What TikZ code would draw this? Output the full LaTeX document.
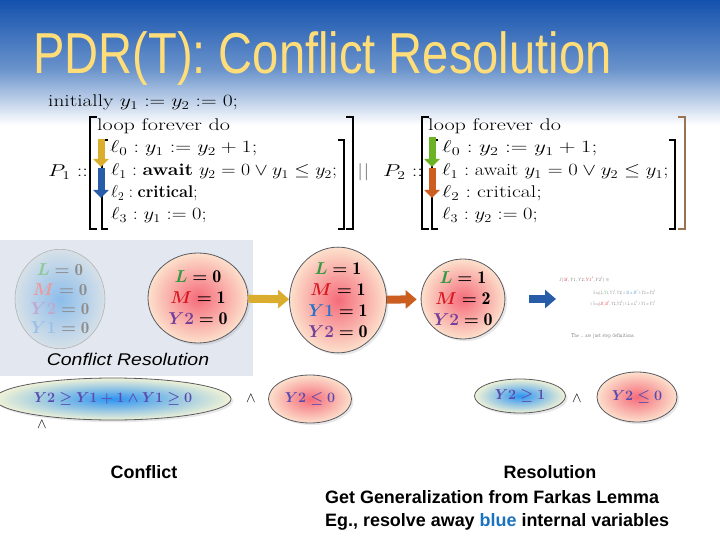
\documentclass[tikz,border=0pt]{standalone}
\usepackage{amsmath, amssymb}
\usepackage{bm}
\usepackage{graphicx}
\usepackage{fontspec}
\newfontfamily\arialfont{Liberation Sans}
\usepackage{tikz}
\usetikzlibrary{arrows.meta, shapes.geometric, shadows}

\definecolor{skytop}{rgb}{0.08,0.32,0.68}
\definecolor{skymid}{rgb}{0.42,0.58,0.8}
\definecolor{titlegold}{rgb}{1,0.87,0.48}
\definecolor{panelgray}{rgb}{0.89,0.91,0.94}
\definecolor{ellgray}{rgb}{0.35,0.35,0.38}
\definecolor{pinkin}{rgb}{0.96,0.42,0.48}
\definecolor{pinkout}{rgb}{0.99,0.88,0.80}
\definecolor{bluein}{rgb}{0.18,0.58,0.95}
\definecolor{blueout}{rgb}{0.94,0.95,0.84}
\definecolor{fadein}{rgb}{0.55,0.74,0.92}
\definecolor{fadeout}{rgb}{0.84,0.88,0.91}
\definecolor{Lgreen}{rgb}{0.2,0.6,0.25}
\definecolor{Mred}{rgb}{0.85,0.1,0.12}
\definecolor{Ypurple}{rgb}{0.45,0.25,0.6}
\definecolor{Yblue}{rgb}{0.15,0.45,0.78}
\definecolor{ineqblue}{rgb}{0.35,0.3,0.68}
\definecolor{arrowyellow}{rgb}{0.86,0.68,0.18}
\definecolor{arroworange}{rgb}{0.8,0.37,0.12}
\definecolor{arrowblue}{rgb}{0.15,0.36,0.66}
\definecolor{arrowgreen}{rgb}{0.42,0.7,0.15}
\definecolor{blueword}{rgb}{0.1,0.45,0.75}
\definecolor{bracktan}{rgb}{0.6,0.45,0.32}

\newcommand{\wide}[2][1.3]{\scalebox{#1}[1]{#2}}
\newcommand{\steq}[4][black]{$\color{#1}\textcolor{#2}{\bm{#3}}\bm{=}\mathbf{#4}$}

\begin{document}
\begin{tikzpicture}[x=1bp, y=-1bp,
    prog/.style={anchor=base west, inner sep=0pt, font=\fontsize{17}{22}\selectfont},
    brk/.style={line width=1.4bp},
    varrow/.style={line width=7bp, -{Triangle[width=15bp, length=8bp]}},
    harrow/.style={line width=8bp, -{Triangle[width=18bp, length=11bp]}},
    pinkell/.style={ellipse, draw=ellgray, line width=0.8bp, inner color=pinkin,
        outer color=pinkout, inner sep=0pt, align=center,
        font=\fontsize{18}{21}\selectfont, drop shadow={opacity=0.18}},
    blueell/.style={ellipse, draw=ellgray, line width=0.8bp, inner color=bluein,
        outer color=blueout, inner sep=0pt, align=center,
        drop shadow={opacity=0.18}},
    ineq/.style={font=\fontsize{15}{15}\selectfont, text=ineqblue},
    andsym/.style={inner sep=0pt, font=\fontsize{15}{15}\selectfont},
    steptxt/.style={anchor=base west, inner sep=0pt, text=black!60,
        font=\fontsize{4}{5}\selectfont},
    caption/.style={inner sep=0pt, font=\arialfont\bfseries\fontsize{18}{22}\selectfont}]
    \useasboundingbox (0,0) rectangle (720,540);

    % slide background
    \fill[top color=skytop, bottom color=skymid] (0,0) rectangle (720,70);
    \fill[top color=skymid, bottom color=white] (0,69.5) rectangle (720,125);

    \node[anchor=base west, inner sep=0pt, text=titlegold,
        font=\arialfont\fontsize{58}{58}\selectfont] (title) at (33,74)
        {\scalebox{0.815}[1]{PDR(T): Conflict Resolution}};

    % the two processes
    \node[prog] (init) at (48,107) {\wide[1.26]{initially $y_1 := y_2 := 0;$}};
    \node[prog] (pa) at (48,177) {\wide{$P_1 ::$}};
    \node[prog] (aloop) at (97,131) {\wide[1.31]{loop forever do}};
    \node[prog] (al0) at (110,153) {\wide[1.28]{$\ell_0 : y_1 := y_2 + 1;$}};
    \node[prog] (al1) at (111,176) {\wide[1.15]{$\ell_1 : \textbf{await}\ y_2 = 0 \vee y_1 \le y_2;$}};
    \node[prog] (al2) at (111,198) {\wide[0.97]{$\ell_2 : \textbf{critical};$}};
    \node[prog] (al3) at (111,220) {\wide[1.19]{$\ell_3 : y_1 := 0;$}};

    \node[prog, text=black!55] (par) at (357,177) {\wide{$||$}};

    \node[prog] (pb) at (383,177) {\wide{$P_2 ::$}};
    \node[prog] (bloop) at (428,131) {\wide[1.31]{loop forever do}};
    \node[prog] (bl0) at (442,153) {\wide[1.35]{$\ell_0 : y_2 := y_1 + 1;$}};
    \node[prog] (bl1) at (442,176) {\wide[1.2]{$\ell_1 : \text{await}\ y_1 = 0 \vee y_2 \le y_1;$}};
    \node[prog] (bl2) at (442,198) {\wide[1.28]{$\ell_2 : \text{critical};$}};
    \node[prog] (bl3) at (442,220) {\wide[1.19]{$\ell_3 : y_2 := 0;$}};

    \draw[brk] (97,117) -- (90,117) -- (90,229) -- (97,229);
    \draw[brk] (108,140) -- (102,140) -- (102,229) -- (108,229);
    \draw[brk] (338,140) -- (344,140) -- (344,229) -- (338,229);
    \draw[brk] (346,117) -- (353,117) -- (353,229) -- (346,229);

    \draw[brk] (429,117) -- (422,117) -- (422,229) -- (429,229);
    \draw[brk] (438,140) -- (432,140) -- (432,229) -- (438,229);
    \draw[brk] (669,140) -- (675,140) -- (675,229) -- (669,229);
    \draw[brk, bracktan] (678,117) -- (685,117) -- (685,229) -- (678,229);

    \coordinate (ya) at (101,139);
    \coordinate (yb) at (101,167);
    \coordinate (yc) at (101,168);
    \coordinate (yd) at (101,198);
    \coordinate (ga) at (432,137);
    \coordinate (gb) at (432,167);
    \coordinate (gc) at (432,168);
    \coordinate (gd) at (432,198);
    \draw[varrow, arrowyellow] (ya) -- (yb);
    \draw[varrow, arrowblue] (yc) -- (yd);
    \draw[varrow, arrowgreen] (ga) -- (gb);
    \draw[varrow, arroworange] (gc) -- (gd);

    % states
    \fill[panelgray] (0,240) rectangle (253,376);
    \node[ellipse, draw=black!30, line width=0.6bp, inner color=fadein,
        outer color=fadeout, inner sep=0pt, align=center,
        font=\fontsize{17}{19.5}\selectfont,
        minimum width=90bp, minimum height=78bp] (e0) at (60,299)
        {\steq[black!45]{Lgreen!55}{L}{0}\\ \steq[black!45]{Mred!45}{M}{0}\\
         \steq[black!45]{Ypurple!45}{Y2}{0}\\ \steq[black!45]{Yblue!45}{Y1}{0}};
    \node[inner sep=0pt, font=\arialfont\itshape\fontsize{17}{20}\selectfont]
        (crlabel) at (128,359) {\scalebox{1.15}[1]{Conflict Resolution}};

    \node[pinkell, minimum width=100bp, minimum height=90bp] (e1) at (198,298)
        {\steq{Lgreen}{L}{0}\\ \steq{Mred}{M}{1}\\ \steq{Ypurple}{Y2}{0}};
    \node[pinkell, minimum width=97bp, minimum height=100bp] (e2) at (338,300)
        {\steq{Lgreen}{L}{1}\\ \steq{Mred}{M}{1}\\ \steq{Yblue}{Y1}{1}\\ \steq{Ypurple}{Y2}{0}};
    \node[pinkell, minimum width=76bp, minimum height=80bp] (e3) at (463,299)
        {\steq{Lgreen}{L}{1}\\ \steq{Mred}{M}{2}\\ \steq{Ypurple}{Y2}{0}};
    \coordinate (bluetip) at (556,299);

    \draw[harrow, arrowyellow] (e1) -- (e2);
    \draw[harrow, arroworange, shorten >=4bp] (e2) -- (e3);
    \draw[harrow, arrowblue, shorten <=24bp] (e3) -- (bluetip);

    \node[steptxt] (sd0) at (559,281) {\resizebox{50bp}{4.5bp}{$J(\textcolor{Mred}{M},Y1,Y2,\textcolor{Mred}{Y1'},Y2')\equiv$}};
    \node[steptxt] (sd1) at (593,294) {\resizebox{62bp}{4.5bp}{$\exists\,\mathit{step}(L,\textcolor{Lgreen}{Y1},Y1',Y2)\wedge\textcolor{Yblue}{M=M'}\wedge Y2=Y2'$}};
    \node[steptxt] (sd2) at (590,305) {\resizebox{65bp}{4.5bp}{$\vee\,\exists\,\mathit{step}(\textcolor{Mred}{M,M'},Y2,Y2')\wedge L=L'\wedge Y1=Y1'$}};
    \node[steptxt] (sd3) at (571,337) {\resizebox{64bp}{4bp}{The \ldots\ are just step definitions.}};

    % conflict and its resolution
    \node[blueell, minimum width=236bp, minimum height=42bp, ineq] (c1) at (113,399)
        {$\bm{Y2 \geq Y1 + 1 \wedge Y1 \geq 0}$};
    \node[andsym] (and1) at (251,399) {$\wedge$};
    \node[pinkell, minimum width=83bp, minimum height=48bp, ineq] (c2) at (310,399)
        {$\bm{Y2 \leq 0}$};
    \node[andsym] (and2) at (42,425) {$\wedge$};

    \node[blueell, minimum width=91bp, minimum height=34bp, ineq] (r1) at (520,396)
        {$\bm{Y2 \geq 1}$};
    \node[andsym] (and3) at (577,399) {$\wedge$};
    \node[pinkell, minimum width=80bp, minimum height=50bp, ineq] (r2) at (637,397)
        {$\bm{Y2 \leq 0}$};

    \node[caption] (conflict) at (144,472) {Conflict};
    \node[caption] (resolution) at (550,472) {Resolution};
    \node[caption, anchor=west] (farkas) at (325,497) {Get Generalization from Farkas Lemma};
    \node[caption, anchor=west] (eg) at (325,522)
        {Eg., resolve away \textcolor{blueword}{blue} internal variables};
\end{tikzpicture}
\end{document}
